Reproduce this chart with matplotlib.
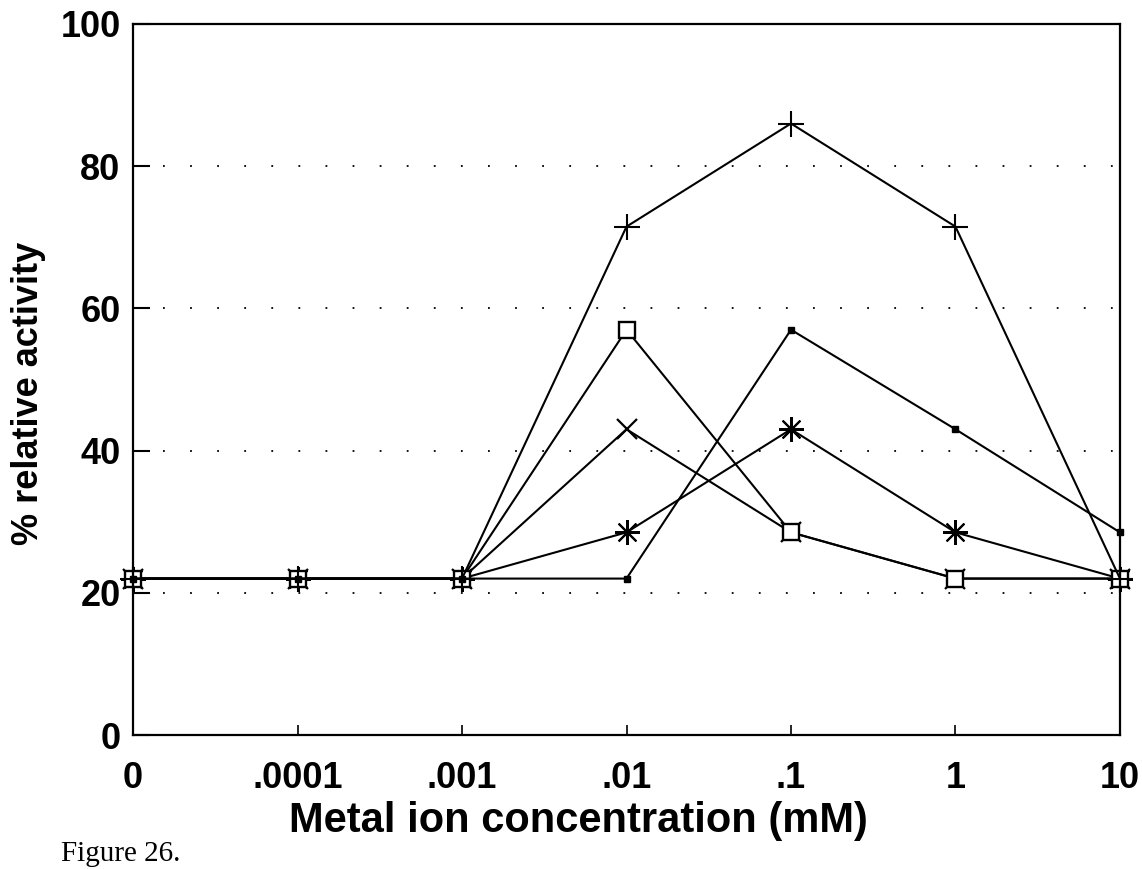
import matplotlib
matplotlib.use("Agg")
import matplotlib.pyplot as plt

# ---- data ----
conc_labels = ["0", ".0001", ".001", ".01", ".1", "1", "10"]
plus_vals = [22, 22, 22, 71.5, 86, 71.5, 22]
open_sq_vals = [22, 22, 22, 57, 28.5, 22, 22]
filled_sq_vals = [22, 22, 22, 22, 57, 43, 28.5]
x_vals = [22, 22, 22, 43, 28.5, 22, 22]
star_vals = [22, 22, 22, 28.5, 43, 28.5, 22]
y_ticks = [0, 20, 40, 60, 80, 100]
grid_levels = [20, 40, 60, 80]

plt.rcParams['font.family'] = ['Liberation Sans', 'DejaVu Sans']

fig = plt.figure(figsize=(11.42, 8.69), dpi=100)
ax = fig.add_axes([0.1165, 0.1542, 0.9807 - 0.1165, 0.9724 - 0.1542])

xs = list(range(len(conc_labels)))
common = dict(color='black', lw=1.5, clip_on=False)

ax.plot(xs, x_vals, marker='x', ms=15, mew=1.6, **common)
ax.plot(xs, star_vals, marker=(8, 2, 0), ms=18, mew=1.5, **common)
ax.plot(xs, open_sq_vals, marker='s', ms=11, mew=1.7, mfc='white', mec='black', **common)
ax.plot(xs, filled_sq_vals, marker='s', ms=5, mew=1, mfc='black', **common)
ax.plot(xs, plus_vals, marker='+', ms=19, mew=1.5, **common)

for g in grid_levels:
    ax.axhline(g, xmin=0.03, xmax=1.0, color='black', lw=1.3,
               linestyle=(0, (1, 14)), zorder=0)

ax.set_xlim(0, 6)
ax.set_ylim(0, 100)
ax.set_xticks(xs)
ax.set_xticklabels(conc_labels)
ax.set_yticks(y_ticks)

for s in ax.spines.values():
    s.set_linewidth(1.6)

ax.tick_params(axis='y', direction='in', length=12, width=1.5, pad=9,
               labelsize=26)
ax.tick_params(axis='x', direction='in', length=7, width=1.2, pad=19,
               labelsize=26)
for lab in ax.get_xticklabels() + ax.get_yticklabels():
    lab.set_fontweight('bold')

ax.set_xlabel("Metal ion concentration (mM)", fontsize=30, fontweight='bold')
ax.xaxis.set_label_coords(0.451, -0.093)
ax.set_ylabel("% relative activity", fontsize=26, fontweight='bold')
ax.yaxis.set_label_coords(-0.088, 0.481)

fig.text(0.053, 0.002, "Figure 26.", fontsize=21,
         family=['Liberation Serif', 'DejaVu Serif'], ha='left', va='bottom')

fig.savefig("out.png", dpi=100)
